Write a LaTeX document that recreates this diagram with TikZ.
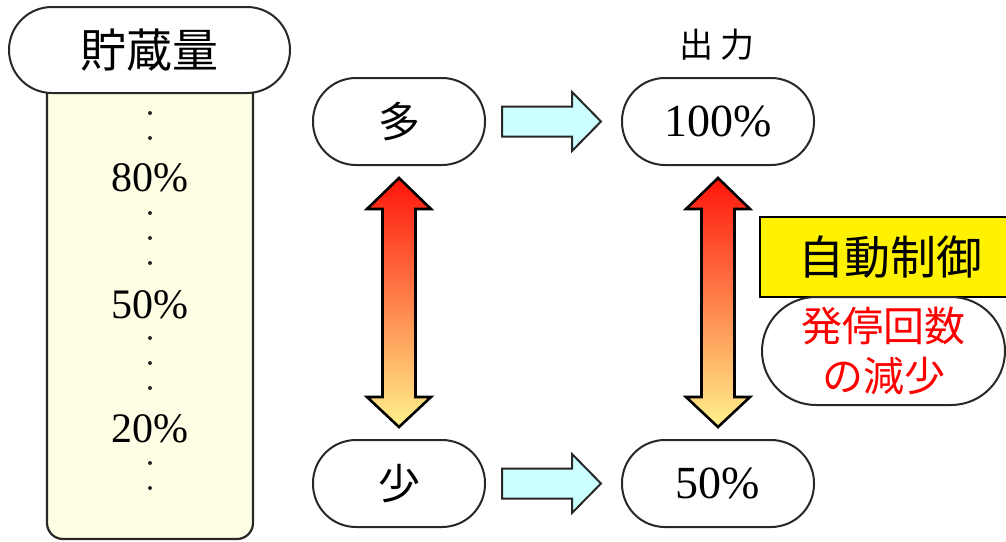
\documentclass[tikz,border=0pt]{standalone}
\usepackage{fontspec}
\setmainfont{Liberation Serif}
\newfontfamily\cjk{Noto Sans CJK JP}
\usetikzlibrary{calc}
\definecolor{colfill}{RGB}{254,254,228}
\definecolor{cyanfill}{RGB}{204,255,255}
\definecolor{arrtop}{RGB}{255,20,10}
\definecolor{arrbot}{RGB}{255,242,140}
\definecolor{outline}{RGB}{40,40,40}
\tikzset{
  pill/.style={draw=outline, line width=2pt, fill=white, rounded corners=#1, inner sep=0pt},
  pill/.default=43pt,
  colbox/.style={draw=outline, line width=2.2pt, fill=colfill},
  harr/.style={draw=outline, line width=2pt, fill=cyanfill, line join=miter},
  varr/.style={draw=black, line width=2.6pt, top color=arrtop, bottom color=arrbot, line join=miter},
  pct/.style={font=\fontsize{42}{46}\selectfont, inner sep=0pt},
  dotmark/.style={fill=black!85},
  ybox/.style={draw=black, line width=2pt, fill=yellow, inner sep=0pt},
}
\newcommand\harrow[2]{%
  \draw[harr] ($(#1.east)+(16,-15)$) -- ($(#2.west)+(-49,-15)$) -- ($(#2.west)+(-49,-29.5)$)
    -- ($(#2.west)+(-20,0)$) -- ($(#2.west)+(-49,29.5)$) -- ($(#2.west)+(-49,15)$)
    -- ($(#1.east)+(16,15)$) -- cycle;}
\newcommand\varrow[2]{%
  \draw[varr] ($(#1.south)+(0,12)$) -- ($(#1.south)+(32,43)$) -- ($(#1.south)+(16.5,43)$)
    -- ($(#2.north)+(16.5,-42)$) -- ($(#2.north)+(32,-42)$) -- ($(#2.north)+(0,-12)$)
    -- ($(#2.north)+(-32,-42)$) -- ($(#2.north)+(-16.5,-42)$) -- ($(#1.south)+(-16.5,43)$)
    -- ($(#1.south)+(-32,43)$) -- cycle;}
\begin{document}
\begin{tikzpicture}[x=1pt,y=-1pt]
\useasboundingbox (0,0) rectangle (1006,541);
% storage column
\draw[colbox, rounded corners=16pt] (47,80) |- (253,539) -- (253,80);
\node[pill, minimum width=281pt, minimum height=86pt, font=\cjk\fontsize{46}{50}\selectfont] (title) at (149.5,50) {貯蔵量};
\foreach \yy in {113,138,213,238,263,338,363,388,463,488}
  \fill[dotmark] (150,\yy) circle (2pt);
\node[pct] (p80) at (150,178) {80\%};
\node[pct] (p50) at (150,305) {50\%};
\node[pct] (p20) at (150,429) {20\%};
% pills
\node[pill, minimum width=172pt, minimum height=87pt, font=\cjk\fontsize{42}{46}\selectfont] (many) at (399,121.5) {多};
\node[pill, minimum width=172pt, minimum height=87pt, font=\cjk\fontsize{42}{46}\selectfont] (few) at (399,483.5) {少};
\node[pill, minimum width=192pt, minimum height=87pt, font=\fontsize{46}{50}\selectfont] (full) at (718,121.5) {100\%};
\node[pill, minimum width=192pt, minimum height=87pt, font=\fontsize{46}{50}\selectfont] (half) at (718,483.5) {50\%};
\node[font=\cjk\fontsize{34}{38}\selectfont, inner sep=0pt] (out) at (717,45) {出\hspace{8pt}力};
% arrows
\harrow{many}{full}
\harrow{few}{half}
\varrow{many}{few}
\varrow{full}{half}
% control boxes
\node[ybox, minimum width=260pt, minimum height=80pt, font=\cjk\fontsize{46}{50}\selectfont] (auto) at (890,257) {自動制御};
\node[pill=54pt, minimum width=243pt, minimum height=108pt, text=red, align=center, font=\cjk\fontsize{41}{50}\selectfont] (red) at (883.5,351) {発停回数\\の減少};
\end{tikzpicture}
\end{document}
